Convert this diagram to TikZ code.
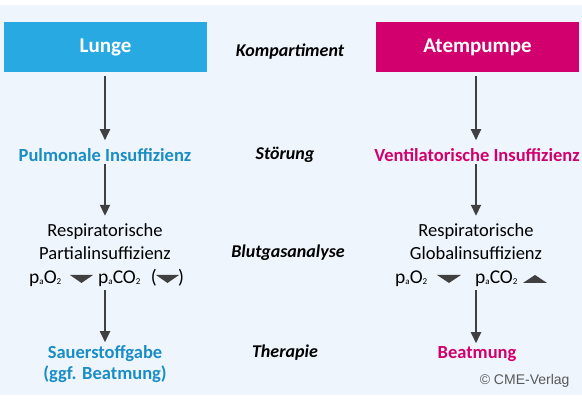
\documentclass[tikz,border=0pt]{standalone}
\usepackage{fontspec}
\setmainfont{Carlito}
\newfontfamily\copyfont{Liberation Sans}
\usetikzlibrary{arrows.meta}

\definecolor{panel}{HTML}{EEF5FC}
\definecolor{lungblue}{HTML}{29A9E1}
\definecolor{textblue}{HTML}{1B8DC6}
\definecolor{pumpred}{HTML}{D2006E}
\definecolor{arrowgray}{HTML}{404040}

% partial pressure with small arterial index
\newcommand{\gassub}[1]{\raisebox{-1pt}{\fontsize{9}{9}\selectfont #1}}
\newcommand{\pgas}[1]{p\gassub{a}#1\gassub{2}}

\tikzset{
  compbox/.style={minimum width=203pt, minimum height=50pt, inner sep=0pt,
    text=white, font=\fontsize{21}{24}\selectfont\bfseries},
  rowlabel/.style={font=\fontsize{18}{21}\selectfont\bfseries\itshape},
  bluetext/.style={text=textblue, font=\fontsize{18.5}{21}\selectfont\bfseries, align=center, inner sep=0pt},
  redtext/.style={text=pumpred, font=\fontsize{18.5}{21}\selectfont\bfseries, align=center, inner sep=0pt},
  plain/.style={font=\fontsize{18.5}{23}\selectfont, align=center, inner sep=0pt},
  gas/.style={font=\fontsize{19.5}{23}\selectfont, anchor=base west, inner sep=0pt},
  flow/.style={draw=arrowgray, line width=1.8pt, -{Triangle[length=11pt,width=10pt]}},
  tri/.style={fill=arrowgray}
}

\begin{document}
\begin{tikzpicture}[x=1pt,y=-1pt]

\useasboundingbox (0,0) rectangle (582,403);
\fill[panel] (0,5) rectangle (582,395);

% Compartments
\node[compbox, fill=lungblue] (lunge) at (105.5,47) {Lunge};
\node[compbox, fill=pumpred] (pumpe) at (477.5,47) {Atempumpe};

% Row labels in the middle
\node[rowlabel] (komp) at (290,52) {Kompartiment};
\node[rowlabel] (stoer) at (285,155) {Störung};
\node[rowlabel] (bga) at (288,253) {Blutgasanalyse};
\node[rowlabel] (ther) at (285,353) {Therapie};

% Left column
\node[bluetext] (pulm) at (105,155) {Pulmonale Insuffizienz};
\node[plain] (partial) at (105,242) {Respiratorische\\Partialinsuffizienz};
\node[gas] (o2L) at (29,284) {\pgas{O}};
\node[gas] (co2L) at (98,284) {\pgas{CO}};
\node[gas, anchor=base east] (openL) at (157,284) {(};
\node[gas] (closeL) at (178,284) {)};
\fill[tri] (70,275) -- (93,275) -- (81.5,283) -- cycle;
\fill[tri] (156,275) -- (179,275) -- (167.5,283) -- cycle;
\node[bluetext] (sauer) at (105,364) {Sauerstoffgabe\\(ggf. Beatmung)};

% Right column
\node[redtext] (vent) at (477,155) {Ventilatorische Insuffizienz};
\node[plain] (global) at (476,242) {Respiratorische\\Globalinsuffizienz};
\node[gas] (o2R) at (395,284) {\pgas{O}};
\node[gas] (co2R) at (475,284) {\pgas{CO}};
\fill[tri] (437,275) -- (461,275) -- (449,283) -- cycle;
\fill[tri] (523,283) -- (547,283) -- (535,275) -- cycle;
\node[redtext] (beat) at (477,354) {Beatmung};

% Arrows
\coordinate (l1) at ([yshift=-4pt]lunge.south -| 105,0);
\coordinate (r1) at ([yshift=-4pt]pumpe.south -| 476,0);
\draw[flow] (l1) -- ([yshift=8pt]l1 |- pulm.north);
\draw[flow] (r1) -- ([yshift=8pt]r1 |- vent.north);
\draw[flow] ([yshift=-2pt]l1 |- pulm.south) -- ([yshift=8pt]l1 |- partial.north);
\draw[flow] ([yshift=-2pt]r1 |- vent.south) -- ([yshift=8pt]r1 |- global.north);
\draw[flow] (105,290) coordinate (l3) -- ([yshift=3pt]l3 |- sauer.north);
\draw[flow] (476,290) coordinate (r3) -- ([yshift=3pt]r3 |- beat.north);

\node[anchor=east, text=black!65, font=\copyfont\fontsize{14}{16}\selectfont] (copy) at (573,381) {© CME-Verlag};

\end{tikzpicture}
\end{document}
